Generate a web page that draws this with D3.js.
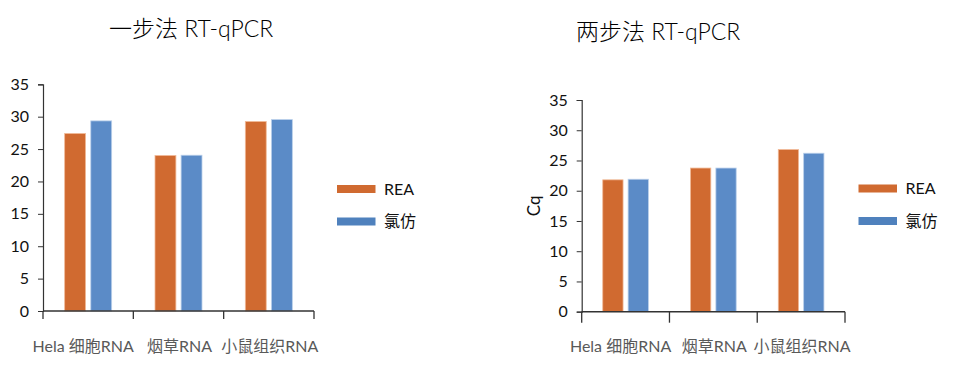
<!DOCTYPE html>
<html><head><meta charset="utf-8">
<script src="https://cdn.jsdelivr.net/npm/d3@7"></script>
<style>
body{margin:0;background:#fff;}
text{font-family:Lato,"Noto Sans CJK SC",sans-serif;}
</style></head>
<body><svg id="c" width="961" height="378"></svg>
<script>
const categories = ["Hela 细胞RNA", "烟草RNA", "小鼠组织RNA"];
const seriesNames = ["REA", "氯仿"];
const oneStepREA = [27.4, 24.0, 29.25];
const oneStepChloroform = [29.35, 24.05, 29.55];
const twoStepREA = [21.8, 23.75, 26.8];
const twoStepChloroform = [21.9, 23.75, 26.2];
const yTicks = [0, 5, 10, 15, 20, 25, 30, 35];
const titles = ["一步法 RT-qPCR", "两步法 RT-qPCR"];
const yLabel = "Cq";

const barColors = ["#D06A30", "#5B8BC7"];
const barStroke = ["#F0B896", "#B9CFEA"];
const legendColors = ["#D06A30", "#4F81BD"];

const svg = d3.select("#c");

function drawChart(cfg){
  const g = svg.append("g");
  const x = d3.scaleBand().domain(categories).range([cfg.x0, cfg.x1]).padding(0);
  const xi = d3.scaleBand().domain(seriesNames).range([0, x.bandwidth()]).paddingInner(0.2).paddingOuter(0.83);
  const y = d3.scaleLinear().domain([0, 35]).range([cfg.y0, cfg.yTop]);

  cfg.values.forEach((vals, si) => {
    g.selectAll(null).data(vals).enter().append("rect")
      .attr("x", (d, i) => x(categories[i]) + xi(seriesNames[si]))
      .attr("y", d => y(d))
      .attr("width", xi.bandwidth())
      .attr("height", d => y(0) - y(d))
      .attr("fill", barColors[si])
      .attr("stroke", barStroke[si])
      .attr("stroke-width", 0.8);
  });

  const ya = g.append("g").attr("transform", `translate(${cfg.x0},0)`)
    .call(d3.axisLeft(y).tickValues(yTicks).tickSize(5).tickPadding(9));
  ya.select(".domain").attr("stroke", "#333").attr("stroke-width", 1.2);
  ya.selectAll(".tick line").attr("stroke", "#333");
  ya.selectAll(".tick text").attr("font-size", 16).attr("fill", "#111")
    .style("font-family", "Lato,sans-serif");

  g.append("line").attr("x1", cfg.x0).attr("x2", cfg.x1).attr("y1", y(0)).attr("y2", y(0))
    .attr("stroke", "#333").attr("stroke-width", 1.5);
  const bounds = categories.map(c => x(c)).concat([cfg.x1]);
  g.selectAll(null).data(bounds).enter().append("line")
    .attr("x1", d => d).attr("x2", d => d)
    .attr("y1", y(0)).attr("y2", y(0) + cfg.tickDown)
    .attr("stroke", "#333").attr("stroke-width", 1.3);

  g.selectAll(null).data(categories).enter().append("text")
    .attr("x", (d, i) => x(d) + x.bandwidth() / 2 + (i === 0 ? -5 : 1))
    .attr("y", 352)
    .attr("text-anchor", "middle")
    .attr("font-size", 16)
    .attr("fill", "#595959")
    .text(d => d);

  g.append("text").attr("x", cfg.titleX).attr("y", cfg.titleY)
    .attr("font-size", 23).attr("font-weight", 300).attr("fill", "#000").text(cfg.title);

  if (cfg.yLabel) {
    g.append("text")
      .attr("transform", `translate(${cfg.yLabelX},${(cfg.y0 + cfg.yTop) / 2}) rotate(-90)`)
      .attr("text-anchor", "middle").attr("font-size", 17).attr("fill", "#111")
      .text(cfg.yLabel);
  }

  seriesNames.forEach((s, i) => {
    const ly = cfg.legendY + i * 32.5;
    g.append("rect").attr("x", cfg.legendX).attr("y", ly)
      .attr("width", 38.5).attr("height", 8).attr("fill", legendColors[i]);
    g.append("text").attr("x", cfg.legendX + 47).attr("y", ly + 9.5)
      .attr("font-size", 16).attr("fill", "#111").text(s);
  });
}

drawChart({x0: 43, x1: 314, y0: 311, yTop: 84.3, tickDown: 8,
  values: [oneStepREA, oneStepChloroform], title: titles[0], titleX: 109, titleY: 37,
  legendX: 337, legendY: 185});
drawChart({x0: 581.7, x1: 845, y0: 311.7, yTop: 100, tickDown: 11,
  values: [twoStepREA, twoStepChloroform], title: titles[1], titleX: 576, titleY: 40,
  legendX: 858.5, legendY: 184.5, yLabel: yLabel, yLabelX: 540});
</script></body></html>
